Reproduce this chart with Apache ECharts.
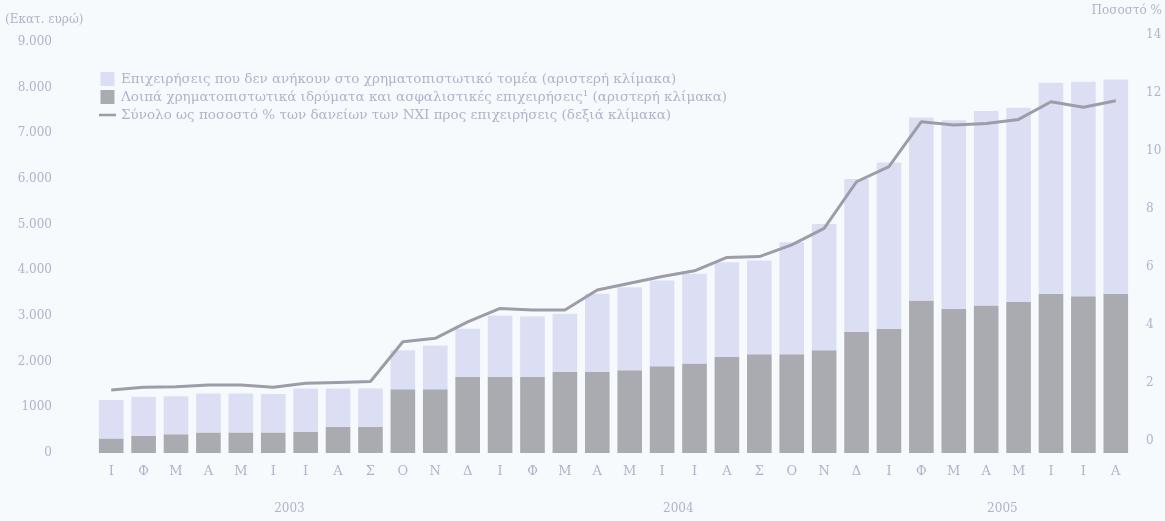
<!DOCTYPE html>
<html>
<head>
<meta charset="utf-8">
<script src="https://cdn.jsdelivr.net/npm/echarts@6/dist/echarts.min.js"></script>
<style>
  html, body { margin: 0; padding: 0; background: #f6fafd; }
  #chart { width: 1165px; height: 521px; }
</style>
</head>
<body>
<div id="chart"></div>
<script>
// Months Jan 2003 – Aug 2005 (Greek initials)
const months = ['Ι','Φ','Μ','Α','Μ','Ι','Ι','Α','Σ','Ο','Ν','Δ',
                'Ι','Φ','Μ','Α','Μ','Ι','Ι','Α','Σ','Ο','Ν','Δ',
                'Ι','Φ','Μ','Α','Μ','Ι','Ι','Α'];

// Year labels placed at the middle of each year's month span
const years = [{ pos: 6, label: '2003' }, { pos: 18, label: '2004' }, { pos: 28, label: '2005' }];

// Other financial intermediaries and insurance corporations (€ million)
const otherFinancial = [320, 380, 410, 450, 450, 450, 465, 575, 575, 1395, 1395, 1665,
                        1665, 1665, 1775, 1775, 1810, 1900, 1960, 2100, 2160, 2160, 2250, 2650,
                        2720, 3340, 3160, 3230, 3305, 3485, 3430, 3485];

// Non-financial corporations (€ million)
const nonFinancial = [840, 850, 835, 855, 855, 840, 945, 835, 835, 855, 960, 1055,
                      1345, 1325, 1275, 1710, 1820, 1875, 1965, 2075, 2055, 2455, 2765, 3350,
                      3640, 4005, 4125, 4260, 4255, 4620, 4700, 4695];

// Total as % of MFI loans to corporations
const totalPct = [1.76, 1.85, 1.87, 1.93, 1.93, 1.85, 1.99, 2.02, 2.05, 3.42, 3.54, 4.11,
                  4.57, 4.52, 4.52, 5.21, 5.44, 5.67, 5.87, 6.33, 6.36, 6.76, 7.33, 8.94,
                  9.46, 11.01, 10.90, 10.95, 11.09, 11.70, 11.51, 11.73];

// Left axis tick labels
const leftTicks = ['0', '1000', '2.000', '3.000', '4.000', '5.000', '6.000', '7.000', '8.000', '9.000'];

const legendNames = [
  'Επιχειρήσεις που δεν ανήκουν στο χρηματοπιστωτικό τομέα (αριστερή κλίμακα)',
  'Λοιπά χρηματοπιστωτικά ιδρύματα και ασφαλιστικές επιχειρήσεις¹ (αριστερή κλίμακα)',
  'Σύνολο ως ποσοστό % των δανείων των ΝΧΙ προς επιχειρήσεις (δεξιά κλίμακα)'
];

const textColor = '#b4b1cb';
const fontFamily = '"DejaVu Serif", "Liberation Serif", serif';

const chart = echarts.init(document.getElementById('chart'), null, { renderer: 'canvas' });

chart.setOption({
  backgroundColor: '#f6fafd',
  animation: false,
  textStyle: { fontFamily: fontFamily, color: textColor },
  grid: [
    { left: 95, right: 33, top: 42, bottom: 68 },
    { left: 95, right: 33, top: 35, bottom: 80 }
  ],
  legend: {
    orient: 'vertical',
    left: 94,
    top: 67,
    itemGap: 4,
    itemWidth: 17,
    itemHeight: 14,
    textStyle: { color: textColor, fontSize: 13.5, fontFamily: fontFamily },
    data: [
      { name: legendNames[0], icon: 'path://M0,0 L14,0 L14,14 L0,14 Z' },
      { name: legendNames[1], icon: 'path://M0,0 L14,0 L14,14 L0,14 Z' },
      { name: legendNames[2], icon: 'path://M0,0 L20,0 L20,3 L0,3 Z' }
    ]
  },
  xAxis: [
    {
      type: 'category', gridIndex: 0, data: months,
      axisLine: { show: false }, axisTick: { show: false },
      axisLabel: { color: textColor, fontSize: 13, margin: 12, fontFamily: fontFamily }
    },
    {
      type: 'category', gridIndex: 1, data: months, show: false
    },
    {
      type: 'value', gridIndex: 0, position: 'bottom', offset: 42,
      min: 0, max: 32, interval: 2,
      axisLine: { show: false }, axisTick: { show: false }, splitLine: { show: false },
      axisLabel: {
        color: textColor, fontSize: 12, fontFamily: fontFamily,
        formatter: function (v) {
          const y = years.find(function (d) { return d.pos === v; });
          return y ? y.label : '';
        }
      }
    }
  ],
  yAxis: [
    {
      type: 'value', gridIndex: 0, min: 0, max: 9000, interval: 1000,
      name: '(Εκατ. ευρώ)', nameLocation: 'end', nameGap: 16,
      nameTextStyle: { color: textColor, fontSize: 12, align: 'left', padding: [0, 0, 0, -90] },
      axisLine: { show: false }, axisTick: { show: false }, splitLine: { show: false },
      axisLabel: {
        color: textColor, fontSize: 12, margin: 43,
        formatter: function (v) { return leftTicks[Math.round(v / 1000)]; }
      }
    },
    {
      type: 'value', gridIndex: 1, position: 'right', min: 0, max: 14, interval: 2,
      name: 'Ποσοστό %', nameLocation: 'end', nameGap: 18,
      nameTextStyle: { color: textColor, fontSize: 12, align: 'right', padding: [0, -30, 0, 0] },
      axisLine: { show: false }, axisTick: { show: false }, splitLine: { show: false },
      axisLabel: { color: textColor, fontSize: 12, margin: 14 }
    }
  ],
  series: [
    {
      name: legendNames[1], type: 'bar', stack: 'total',
      xAxisIndex: 0, yAxisIndex: 0,
      barCategoryGap: '24%',
      itemStyle: { color: '#a9abb1' },
      data: otherFinancial
    },
    {
      name: legendNames[0], type: 'bar', stack: 'total',
      xAxisIndex: 0, yAxisIndex: 0,
      barCategoryGap: '24%',
      itemStyle: { color: '#dcdff3' },
      data: nonFinancial
    },
    {
      name: legendNames[2], type: 'line',
      xAxisIndex: 1, yAxisIndex: 1,
      symbol: 'none',
      lineStyle: { color: '#9c9da7', width: 3 },
      itemStyle: { color: '#9c9da7' },
      data: totalPct,
      z: 5
    }
  ]
});
</script>
</body>
</html>
